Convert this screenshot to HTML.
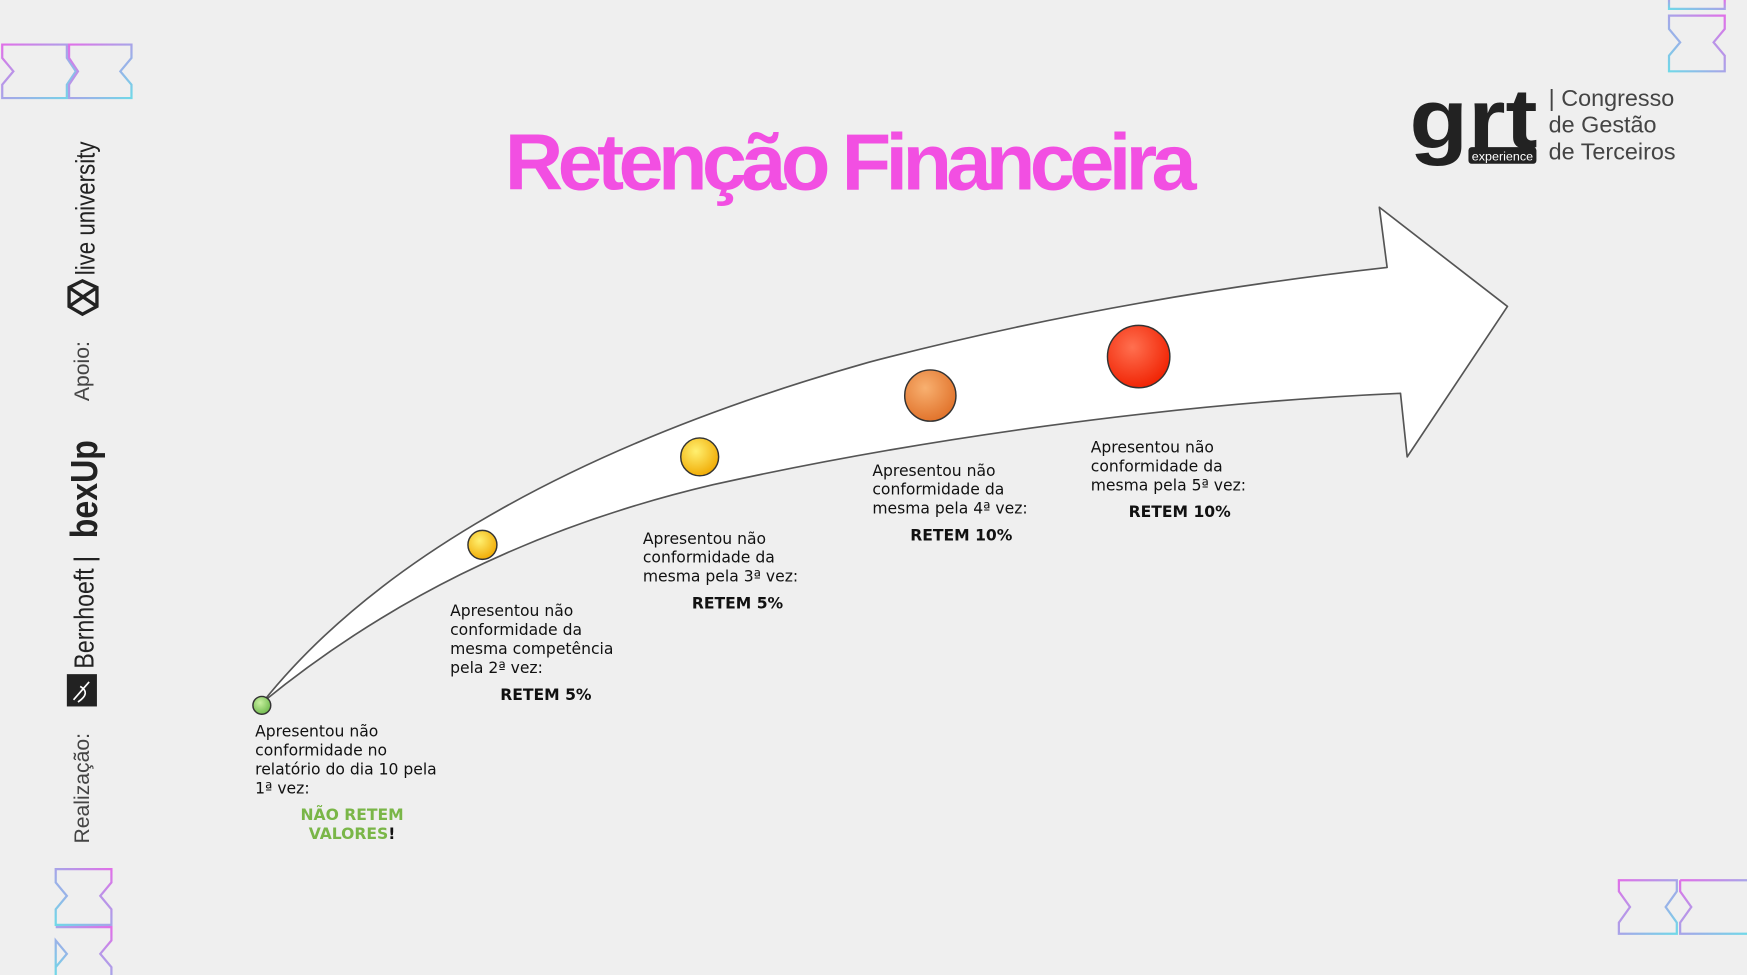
<!DOCTYPE html>
<html><head><meta charset="utf-8"><style>
html,body{margin:0;padding:0;width:1747px;height:975px;overflow:hidden;background:#efefef}
svg{display:block}
</style></head><body>
<svg width="1747" height="975" viewBox="0 0 1568 875" preserveAspectRatio="none" xmlns="http://www.w3.org/2000/svg">
<defs>
<linearGradient id="xx" x1="0" y1="0" x2="1" y2="1"><stop offset="0" stop-color="#e070e8"/><stop offset="1" stop-color="#70d8e8"/></linearGradient>
<linearGradient id="xx2" x1="0" y1="1" x2="1" y2="0"><stop offset="0" stop-color="#70d8e8"/><stop offset="1" stop-color="#e070e8"/></linearGradient>
<radialGradient id="g1" cx="0.4" cy="0.35" r="0.7"><stop offset="0" stop-color="#c8f0a0"/><stop offset="1" stop-color="#6cb84a"/></radialGradient>
<radialGradient id="g2" cx="0.4" cy="0.35" r="0.7"><stop offset="0" stop-color="#fff070"/><stop offset="1" stop-color="#f0a800"/></radialGradient>
<radialGradient id="g3" cx="0.4" cy="0.35" r="0.7"><stop offset="0" stop-color="#f8b070"/><stop offset="1" stop-color="#e07028"/></radialGradient>
<radialGradient id="g4" cx="0.4" cy="0.35" r="0.7"><stop offset="0" stop-color="#ff7050"/><stop offset="1" stop-color="#f02000"/></radialGradient>
</defs>
<rect width="1568" height="875" fill="#efefef"/>
<g fill="none" stroke-width="2">
<path d="M2,40 H60 V52 L68,64 L60,76 V88 H2 V76 L12,64 L2,52 Z" stroke="url(#xx)"/>
<path d="M62,40 H118 V52 L108,64 L118,76 V88 H62 V76 L70,64 L62,52 Z" stroke="url(#xx)"/>
<path d="M50,780 H100 V792 L90,804 L100,816 V830 H50 V816 L60,804 L50,792 Z" stroke="url(#xx2)"/>
<path d="M50,832 H100 V844 L90,856 L100,868 V875 M50,875 V868 L60,856 L50,844 Z" stroke="url(#xx2)"/>
<path d="M1453,790 H1505 V800 L1495,814 L1505,828 V838 H1453 V828 L1463,814 L1453,800 Z" stroke="url(#xx)"/>
<path d="M1508,790 H1568 M1508,790 V800 L1518,814 L1508,828 V838 H1568" stroke="url(#xx)"/>
<path d="M1498,0 V8 H1548 V0" stroke="url(#xx2)"/>
<path d="M1498,14 H1548 V26 L1538,38 L1548,50 V64 H1498 V50 L1508,38 L1498,26 Z" stroke="url(#xx2)"/>
</g>
<g font-family="'Liberation Sans',sans-serif" fill="#333">
<text transform="translate(80,757) rotate(-90)" font-size="19" fill="#444">Realização:</text>
<rect x="60" y="605" width="27" height="29" fill="#222"/>
<path d="M66,628 L80,612 M72,616 Q82,622 70,630" stroke="#fff" stroke-width="1.5" fill="none"/>
<text transform="translate(84,600) rotate(-90)" font-size="25" fill="#222" textLength="90" lengthAdjust="spacingAndGlyphs">Bernhoeft</text>
<text transform="translate(84,505) rotate(-90)" font-size="25" fill="#222">|</text>
<text transform="translate(87,483) rotate(-90)" font-size="34" font-weight="bold" fill="#222" textLength="88" lengthAdjust="spacingAndGlyphs">bexUp</text>
<text transform="translate(80,360) rotate(-90)" font-size="19" fill="#444">Apoio:</text>
<path d="M62,258 L74,252 L87,258 L87,275 L74,282 L62,275 Z M62,258 L87,275 M87,258 L62,275" fill="none" stroke="#222" stroke-width="3"/>
<text transform="translate(85,247) rotate(-90)" font-size="24" fill="#222" textLength="120" lengthAdjust="spacingAndGlyphs">live university</text>
</g>
<g font-family="'Liberation Sans',sans-serif">
<text x="1265" y="133" font-size="76" font-weight="bold" fill="#222" textLength="115" lengthAdjust="spacingAndGlyphs">grt</text>
<rect x="1318" y="132" width="61" height="15" rx="3" fill="#222"/>
<text x="1321" y="144" font-size="10.5" fill="#fff" textLength="55" lengthAdjust="spacingAndGlyphs">experience</text>
<g font-size="21" fill="#444">
<text x="1390" y="95">| Congresso</text>
<text x="1390" y="119">de Gestão</text>
<text x="1390" y="143">de Terceiros</text>
</g>
</g>
<text x="761" y="170" text-anchor="middle" font-family="'Liberation Sans',sans-serif" font-weight="bold" font-size="72" fill="#f24fe2" letter-spacing="-5" textLength="616" lengthAdjust="spacingAndGlyphs">Retenção Financeira</text>
<path d="M236,630 C320,525 480,410 780,325 C960,278 1120,254 1245,240 L1238,186 L1353,275 L1263,410 L1257,353 C1050,362 820,395 640,435 C470,475 340,545 236,630 Z" fill="#fff" stroke="#555" stroke-width="1.5" stroke-linejoin="round"/>
<g stroke="#333" stroke-width="1.3">
<circle cx="235" cy="633" r="8" fill="url(#g1)"/>
<circle cx="433" cy="489" r="13" fill="url(#g2)"/>
<circle cx="628" cy="410" r="17" fill="url(#g2)"/>
<circle cx="835" cy="355" r="23" fill="url(#g3)"/>
<circle cx="1022" cy="320" r="28" fill="url(#g4)"/>
</g>
<g font-family="'DejaVu Sans',Verdana,sans-serif" font-size="14" fill="#111">
<text x="229" y="661">Apresentou não</text>
<text x="229" y="678">conformidade no</text>
<text x="229" y="695">relatório do dia 10 pela</text>
<text x="229" y="712">1ª vez:</text>
<text x="316" y="736" text-anchor="middle" font-weight="bold" fill="#7ab648">NÃO RETEM</text>
<text x="316" y="753" text-anchor="middle" font-weight="bold"><tspan fill="#7ab648">VALORES</tspan>!</text>
<text x="404" y="553">Apresentou não</text>
<text x="404" y="570">conformidade da</text>
<text x="404" y="587">mesma competência</text>
<text x="404" y="604">pela 2ª vez:</text>
<text x="449" y="628" font-weight="bold">RETEM 5%</text>
<text x="577" y="488">Apresentou não</text>
<text x="577" y="505">conformidade da</text>
<text x="577" y="522">mesma pela 3ª vez:</text>
<text x="621" y="546" font-weight="bold">RETEM 5%</text>
<text x="783" y="427">Apresentou não</text>
<text x="783" y="444">conformidade da</text>
<text x="783" y="461">mesma pela 4ª vez:</text>
<text x="817" y="485" font-weight="bold">RETEM 10%</text>
<text x="979" y="406">Apresentou não</text>
<text x="979" y="423">conformidade da</text>
<text x="979" y="440">mesma pela 5ª vez:</text>
<text x="1013" y="464" font-weight="bold">RETEM 10%</text>
</g>
</svg>
</body></html>
